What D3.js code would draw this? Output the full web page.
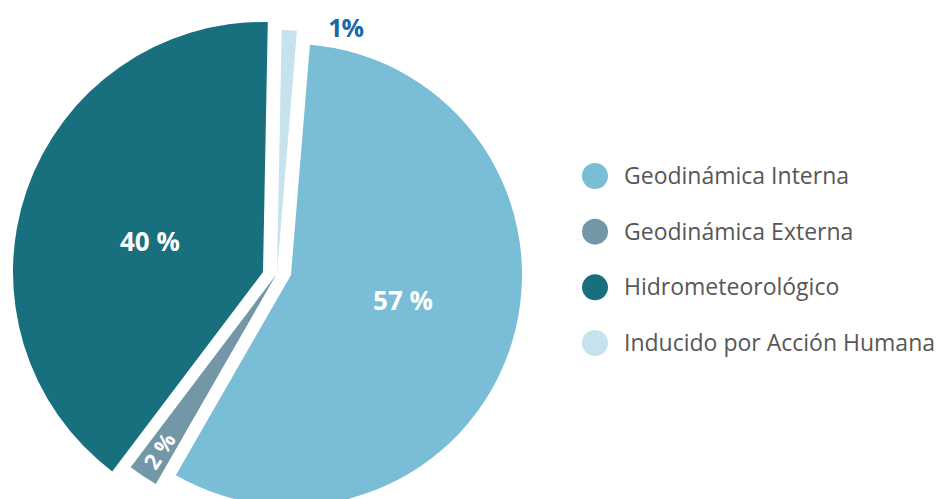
<!DOCTYPE html>
<html>
<head>
<meta charset="utf-8">
<script src="https://cdn.jsdelivr.net/npm/d3@7"></script>
<style>
  html, body { margin: 0; padding: 0; background: #ffffff; }
  svg { display: block; }
</style>
</head>
<body>
<svg id="chart" width="937" height="499"></svg>
<script>
// ---- data ----
const categories = ["Geodinámica Interna", "Geodinámica Externa", "Hidrometeorológico", "Inducido por Acción Humana"];
const values = [57, 2, 40, 1];
const labels = ["57 %", "2 %", "40 %", "1%"];

// ---- styles / layout (not data) ----
const colors = ["#79bdd6", "#7397a6", "#18707f", "#c6e2ed"];
const radii = [231, 241, 250, 243];
const offsets = [[14, 1], [-1, 1], [-14, -2], [0, -1]];
const labelAngleShift = [-4.3, 0, -4.3, 12.8]; // degrees from slice bisector
const labelRadius = [115, 211, 117, 254];
const labelSize = [26, 22, 26, 25];
const center = [277, 274];
const startDeg = 4.7;

const svg = d3.select("#chart");
const deg = Math.PI / 180;

const pie = d3.pie().sort(null).value(d => d)
  .startAngle(startDeg * deg).endAngle((startDeg + 360) * deg);
const arcs = pie(values);

const g = svg.append("g").attr("transform", `translate(${center[0]},${center[1]})`);

const slices = g.selectAll("g.slice").data(arcs).enter().append("g")
  .attr("class", "slice")
  .attr("transform", (d, i) => `translate(${offsets[i][0]},${offsets[i][1]})`);

slices.append("path")
  .attr("d", (d, i) => d3.arc().innerRadius(0).outerRadius(radii[i])(d))
  .attr("fill", (d, i) => colors[i]);

const font = "'Open Sans', 'DejaVu Sans', sans-serif";

slices.each(function(d, i) {
  const sel = d3.select(this);
  const mid = (d.startAngle + d.endAngle) / 2;
  const p = d3.pointRadial(mid + labelAngleShift[i] * deg, labelRadius[i]);
  const t = sel.append("text")
    .attr("dy", "0.36em")
    .attr("text-anchor", "middle")
    .attr("fill", i === 3 ? "#1b68a6" : "#ffffff")
    .attr("font-family", font)
    .attr("font-weight", "bold")
    .attr("font-size", labelSize[i])
    .text(labels[i]);
  if (i === 1) {
    t.attr("transform", `translate(${p[0]},${p[1]}) rotate(${mid / deg - 270})`);
  } else {
    t.attr("x", p[0]).attr("y", p[1]);
    if (i === 3) t.attr("letter-spacing", "-1");
  }
});

// legend
const legendY = d3.scalePoint().domain(categories).range([176, 343]);
const legend = svg.append("g");
const items = legend.selectAll("g").data(categories).enter().append("g")
  .attr("transform", d => `translate(0,${legendY(d)})`);
items.append("circle").attr("cx", 595).attr("cy", 0).attr("r", 13)
  .attr("fill", (d, i) => colors[i]);
items.append("text").attr("x", 624).attr("y", 0).attr("dy", "0.35em")
  .attr("fill", "#575757")
  .attr("font-family", font)
  .attr("font-size", 23)
  .text(d => d);
</script>
</body>
</html>
